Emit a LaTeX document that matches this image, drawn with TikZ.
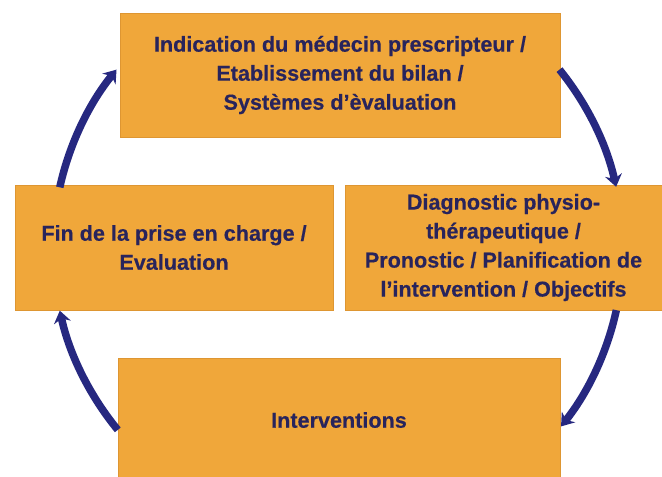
\documentclass[tikz,border=0pt]{standalone}
\usepackage{fontspec}
\setmainfont{Liberation Sans}
\newfontfamily\heavyfont[FakeBold=0.4]{Liberation Sans}
\usetikzlibrary{arrows.meta,calc}
\definecolor{boxfill}{RGB}{240,167,58}
\definecolor{boxedge}{RGB}{222,150,50}
\definecolor{txt}{RGB}{40,36,92}
\definecolor{arr}{RGB}{38,40,128}
\tikzset{
  stagebox/.style={draw=boxedge, line width=0.8pt, fill=boxfill, inner sep=0pt,
    align=center, text=txt, font=\heavyfont\bfseries\fontsize{21.6}{29}\selectfont},
  cyclearrow/.style={draw=arr, line width=7.5pt, -{Stealth[length=12pt,width=17pt]}}
}
\begin{document}
\begin{tikzpicture}[x=1pt,y=1pt]
\useasboundingbox (0,0) rectangle (662,477);
\fill[white] (0,0) rectangle (662,477);
\coordinate (c) at (338,228);
\node[stagebox, minimum width=440pt, minimum height=124pt] (top) at (340,402)
  {Indication du médecin prescripteur /\\Etablissement du bilan /\\Systèmes d’èvaluation};
\node[stagebox, minimum width=318pt, minimum height=125pt] (left) at (174,229.5)
  {Fin de la prise en charge /\\Evaluation};
\node[stagebox, minimum width=317pt, minimum height=125pt] (right) at (503.5,229.5)
  {Diagnostic physio-\\thérapeutique /\\Pronostic / Planification de\\l’intervention / Objectifs};
\node[stagebox, minimum width=442pt, minimum height=124pt] (bottom) at (339,57)
  {Interventions};
\draw[cyclearrow] ($(c)+(39:285)$) arc[start angle=39, end angle=12.6, radius=285];
\draw[cyclearrow] ($(c)+(-12.4:285)$) arc[start angle=-12.4, end angle=-38.5, radius=285];
\draw[cyclearrow] ($(c)+(219.4:285)$) arc[start angle=219.4, end angle=192.5, radius=285];
\draw[cyclearrow] ($(c)+(167.5:285)$) arc[start angle=167.5, end angle=141, radius=285];
\end{tikzpicture}
\end{document}
